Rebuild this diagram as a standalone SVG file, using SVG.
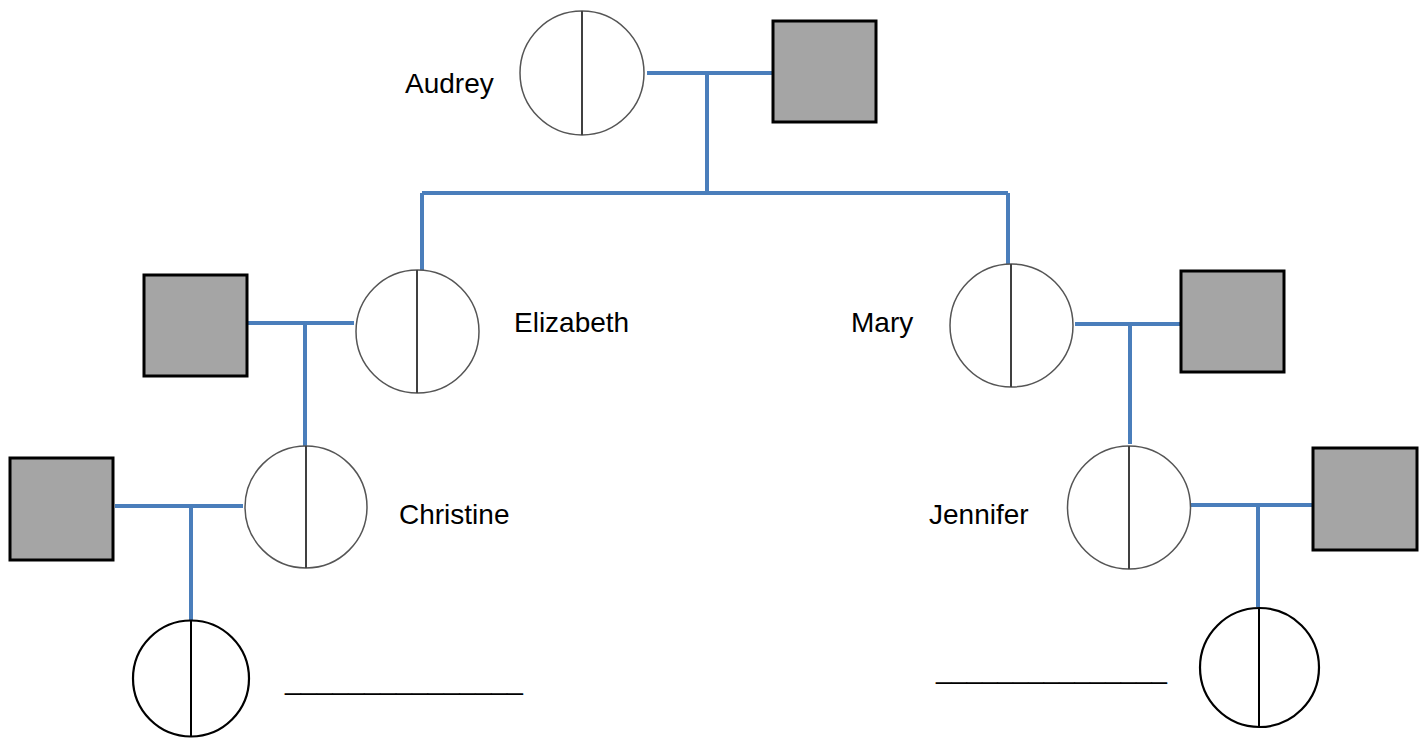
<svg xmlns="http://www.w3.org/2000/svg" width="1423" height="741" viewBox="0 0 1423 741">
<style>
.bg{fill:#fff}
.c{fill:#fff;stroke:#555;stroke-width:1.5}
.ck{fill:#fff;stroke:#000;stroke-width:2.2}
.d{stroke:#404040;stroke-width:2}
.dk{stroke:#000;stroke-width:2}
.sq{fill:#a5a5a5;stroke:#000;stroke-width:3}
.ln{fill:none;stroke:#4a7ebb;stroke-width:4}
.t{font-family:"Liberation Sans",Arial,sans-serif;font-size:28px;fill:#000}
</style>
<rect class="bg" width="1423" height="741"/>
<g id="connectors">
<path class="ln" d="M647 73H773M707 73V193M422 193H1008M422 193V270M1008 193V264"/>
<path class="ln" d="M247 323H354M305 323V446"/>
<path class="ln" d="M1075 324H1181M1130 324V444"/>
<path class="ln" d="M115 506H243M191 506V620"/>
<path class="ln" d="M1185 505H1313M1258 505V607"/>
</g>
<g id="audrey">
<circle class="c" cx="582" cy="73" r="62"/>
<line class="d" x1="582" y1="11" x2="582" y2="135"/>
<text class="t" x="405" y="93">Audrey</text>
</g>
<g id="audrey-spouse"><rect class="sq" x="773" y="21" width="103" height="101"/></g>
<g id="elizabeth">
<circle class="c" cx="417.5" cy="331.5" r="61.5"/>
<line class="d" x1="417" y1="270" x2="417" y2="393"/>
<text class="t" x="514" y="332">Elizabeth</text>
</g>
<g id="elizabeth-spouse"><rect class="sq" x="144" y="275" width="103" height="101"/></g>
<g id="mary">
<circle class="c" cx="1011.5" cy="325.5" r="61.5"/>
<line class="d" x1="1011" y1="264" x2="1011" y2="387"/>
<text class="t" x="851" y="332">Mary</text>
</g>
<g id="mary-spouse"><rect class="sq" x="1181" y="271" width="103" height="101"/></g>
<g id="christine">
<circle class="c" cx="306" cy="507" r="61"/>
<line class="d" x1="306" y1="446" x2="306" y2="568"/>
<text class="t" x="399" y="524">Christine</text>
</g>
<g id="christine-spouse"><rect class="sq" x="10" y="458" width="103" height="102"/></g>
<g id="jennifer">
<circle class="c" cx="1129" cy="507.5" r="61.5"/>
<line class="d" x1="1129" y1="446" x2="1129" y2="569"/>
<text class="t" x="929" y="524">Jennifer</text>
</g>
<g id="jennifer-spouse"><rect class="sq" x="1313" y="448" width="104" height="102"/></g>
<g id="child-left">
<circle class="ck" cx="191" cy="678.5" r="58"/>
<line class="dk" x1="191" y1="620" x2="191" y2="737"/>
<text class="t" x="285" y="689" textLength="238" lengthAdjust="spacingAndGlyphs">_______________</text>
</g>
<g id="child-right">
<circle class="ck" cx="1259.5" cy="667.5" r="59.5"/>
<line class="dk" x1="1259" y1="608" x2="1259" y2="727"/>
<text class="t" x="936" y="678" textLength="231" lengthAdjust="spacingAndGlyphs">_______________</text>
</g>
</svg>
